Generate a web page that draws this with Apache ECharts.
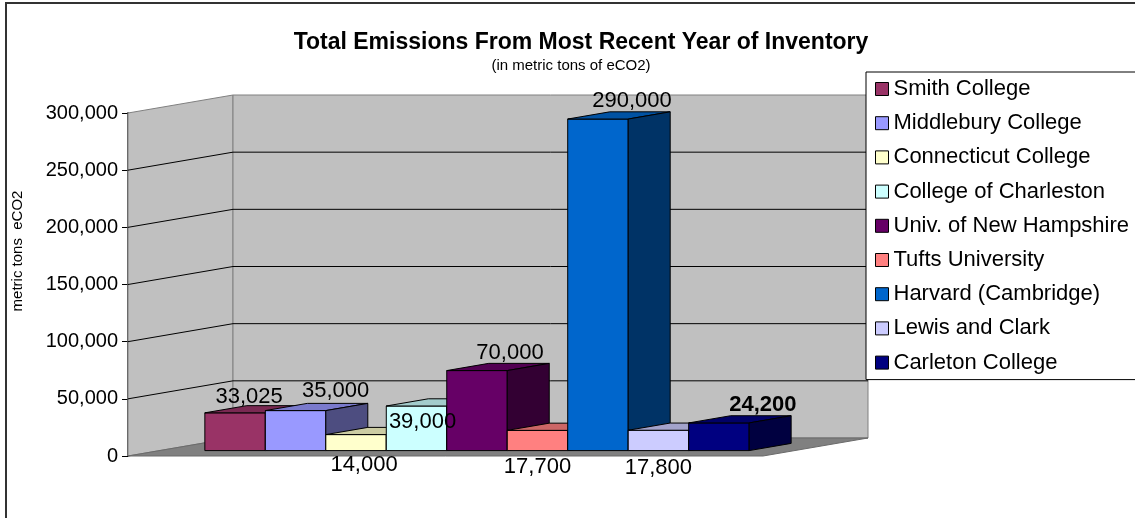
<!DOCTYPE html>
<html style="height: 100%">
<head>
    <meta charset="utf-8">
    <script src="https://cdn.jsdelivr.net/npm/echarts@6/dist/echarts.min.js"></script>
</head>
<body style="height: 100%; margin: 0; background: #fff;">
<div id="container" style="width: 1135px; height: 518px;"></div>
<script type="text/javascript">
    // data
    var colleges = ['Smith College', 'Middlebury College', 'Connecticut College', 'College of Charleston',
        'Univ. of New Hampshire', 'Tufts University', 'Harvard (Cambridge)', 'Lewis and Clark', 'Carleton College'];
    var emissions = [33025, 35000, 14000, 39000, 70000, 17700, 290000, 17800, 24200];
    var yTicks = [0, 50000, 100000, 150000, 200000, 250000, 300000];

    // styles
    var barColors = ['#993366', '#9999FF', '#FFFFCC', '#CCFFFF', '#660066', '#FF8080', '#0066CC', '#CCCCFF', '#000080'];
    // where each value label sits, relative to the top front edge of its bar
    var labelShift = [[14, -16], [40, -20], [8, 30], [6, 16], [33, -18], [0, 37], [34, -18], [0, 38], [44, -18]];
    var FONT = '"Liberation Sans", Arial, sans-serif';
    var DEPTH = [105, -18];      // floor depth, px
    var BAR_FRONT = 0.3, BAR_BACK = 0.7;  // bars sit in this slice of the depth
    var GAP = 1.5;               // excel gap width 150%

    function shade(hex, k) {
        var n = parseInt(hex.slice(1), 16);
        var r = Math.round(((n >> 16) & 255) * k);
        var g = Math.round(((n >> 8) & 255) * k);
        var b = Math.round((n & 255) * k);
        return 'rgb(' + r + ',' + g + ',' + b + ')';
    }

    function renderWalls(params, api) {
        var cs = params.coordSys;
        var x0 = cs.x, x1 = cs.x + cs.width;
        var dx = DEPTH[0], dy = DEPTH[1];
        var yAt = function (v) { return api.coord([0, v])[1]; };
        var y0 = yAt(0), yTop = yAt(yTicks[yTicks.length - 1]);
        var kids = [];
        // left side wall
        kids.push({
            type: 'polygon',
            shape: {points: [[x0, y0], [x0, yTop], [x0 + dx, yTop + dy], [x0 + dx, y0 + dy]]},
            style: {fill: '#C0C0C0', stroke: '#808080', lineWidth: 1}
        });
        // back wall
        kids.push({
            type: 'rect',
            shape: {x: x0 + dx, y: yTop + dy, width: x1 - x0, height: y0 - yTop},
            style: {fill: '#C0C0C0', stroke: '#808080', lineWidth: 1}
        });
        // grid lines
        for (var k = 1; k < yTicks.length - 1; k++) {
            var yy = yAt(yTicks[k]);
            kids.push({
                type: 'polyline',
                shape: {points: [[x0, yy], [x0 + dx, yy + dy], [x1 + dx, yy + dy]]},
                style: {stroke: '#000', lineWidth: 1, fill: null}
            });
        }
        // floor
        kids.push({
            type: 'polygon',
            shape: {points: [[x0, y0], [x1, y0], [x1 + dx, y0 + dy], [x0 + dx, y0 + dy]]},
            style: {fill: '#808080', stroke: '#6a6a6a', lineWidth: 1}
        });
        return {type: 'group', children: kids};
    }

    function renderBar(params, api) {
        var i = params.seriesIndex - 1;
        var n = emissions.length;
        var band = api.size([1, 0])[0];
        var w = band / (n + GAP);
        var base = api.coord([0, 0]);
        var val = api.value(1);
        var top = api.coord([0, val]);
        var fx = DEPTH[0] * BAR_FRONT, fy = DEPTH[1] * BAR_FRONT;
        var bx = DEPTH[0] * (BAR_BACK - BAR_FRONT), by = DEPTH[1] * (BAR_BACK - BAR_FRONT);
        var L = base[0] - w * n / 2 + i * w + fx;
        var R = L + w;
        var yb = base[1] + fy, yt = top[1] + fy;
        var c = barColors[i];
        var line = {stroke: '#000', lineWidth: 1};
        return {
            type: 'group',
            children: [
                {type: 'rect', shape: {x: L, y: yt, width: w, height: yb - yt},
                    style: Object.assign({fill: c}, line)},
                {type: 'polygon', shape: {points: [[L, yt], [R, yt], [R + bx, yt + by], [L + bx, yt + by]]},
                    style: Object.assign({fill: shade(c, 0.8)}, line)},
                {type: 'polygon', shape: {points: [[R, yt], [R + bx, yt + by], [R + bx, yb + by], [R, yb]]},
                    style: Object.assign({fill: shade(c, 0.5)}, line)},
                {type: 'text', z2: 100,
                    x: L + w / 2 + labelShift[i][0], y: yt + labelShift[i][1],
                    style: {text: val.toLocaleString('en-US'), fill: '#000', align: 'center', verticalAlign: 'middle',
                        font: (i === n - 1 ? 'bold ' : '') + '22px ' + FONT}}
            ]
        };
    }

    var series = [{
        name: 'walls',
        type: 'custom',
        renderItem: renderWalls,
        clip: false,
        silent: true,
        data: [[0, 0]]
    }];
    colleges.forEach(function (name, i) {
        series.push({
            name: name,
            type: 'custom',
            renderItem: renderBar,
            clip: false,
            itemStyle: {color: barColors[i]},
            encode: {x: 0, y: 1},
            data: [[0, emissions[i]]]
        });
    });

    var myChart = echarts.init(document.getElementById('container'));
    var option = {
        animation: false,
        title: [{
            text: 'Total Emissions From Most Recent Year of Inventory',
            left: 576, top: 26, textAlign: 'center',
            textStyle: {fontFamily: FONT, fontSize: 23, fontWeight: 'bold', color: '#000'}
        }, {
            text: '(in metric tons of eCO2)',
            left: 566, top: 53, textAlign: 'center',
            textStyle: {fontFamily: FONT, fontSize: 15, fontWeight: 'normal', color: '#000'}
        }],
        legend: {
            data: colleges,
            orient: 'vertical',
            left: 866, top: 72,
            padding: [5, 60, 5, 9],
            itemGap: 10.2,
            itemWidth: 13, itemHeight: 13,
            icon: 'rect',
            itemStyle: {borderColor: '#000', borderWidth: 1},
            backgroundColor: '#fff',
            borderColor: '#000', borderWidth: 1, borderRadius: 0,
            textStyle: {fontFamily: FONT, fontSize: 22, color: '#000', lineHeight: 24}
        },
        grid: {left: 128, top: 113, width: 635, height: 343},
        xAxis: {type: 'category', data: ['All'], show: false},
        yAxis: {
            type: 'value', min: 0, max: 300000, interval: 50000,
            axisLine: {show: true, lineStyle: {color: '#555', width: 2}},
            axisTick: {show: true, length: 6, lineStyle: {color: '#000'}},
            axisLabel: {
                margin: 10, color: '#000', fontFamily: FONT, fontSize: 20,
                formatter: function (v) { return v.toLocaleString('en-US'); }
            },
            splitLine: {show: false}
        },
        graphic: [{
            type: 'rect', silent: true,
            shape: {x: 6, y: 3, width: 1200, height: 600},
            style: {fill: null, stroke: '#333', lineWidth: 2}
        }, {
            type: 'text', x: 18, y: 251, rotation: Math.PI / 2,
            style: {text: 'metric tons  eCO2', font: '15px ' + FONT, fill: '#000', align: 'center', verticalAlign: 'middle'}
        }],
        series: series
    };
    myChart.setOption(option);
</script>
</body>
</html>
